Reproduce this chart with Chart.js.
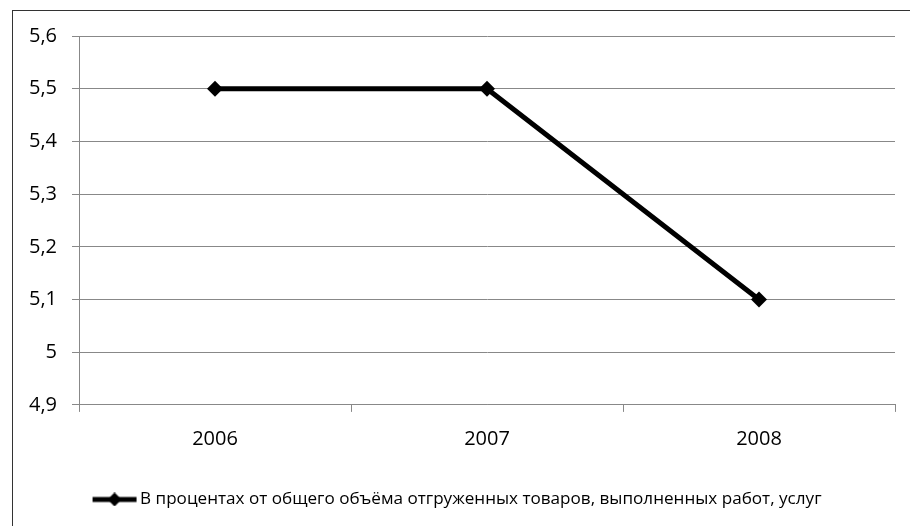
<!DOCTYPE html>
<html>
<head>
<meta charset="utf-8">
<script src="https://cdn.jsdelivr.net/npm/chart.js@4/dist/chart.umd.min.js"></script>
<style>
  html, body { margin: 0; padding: 0; background: #fff; }
  #wrap { width: 910px; height: 526px; position: relative; }
</style>
</head>
<body>
<div id="wrap"><canvas id="chart"></canvas></div>
<script>
const years = ['2006', '2007', '2008'];
const shareValues = [5.5, 5.5, 5.1];
const seriesName = 'В процентах от общего объёма отгруженных товаров, выполненных работ, услуг';
const yMin = 4.9, yMax = 5.6, yStep = 0.1;

const FONT = '"Open Sans", "Noto Sans", sans-serif';

// legend symbol: thick line with a diamond in the middle
const sym = document.createElement('canvas');
sym.width = 46; sym.height = 14;
const sctx = sym.getContext('2d');
sctx.strokeStyle = '#000';
sctx.lineWidth = 5;
sctx.beginPath(); sctx.moveTo(1, 7); sctx.lineTo(45, 7); sctx.stroke();
sctx.fillStyle = '#000';
sctx.beginPath();
sctx.moveTo(23, 0); sctx.lineTo(30, 7); sctx.lineTo(23, 14); sctx.lineTo(16, 7);
sctx.closePath(); sctx.fill();

// outer frame like the spreadsheet chart border
const framePlugin = {
  id: 'frame',
  beforeDraw(chart) {
    const c = chart.ctx;
    c.save();
    c.fillStyle = '#fff';
    c.fillRect(0, 0, chart.width, chart.height);
    c.strokeStyle = '#333';
    c.lineWidth = 1;
    c.strokeRect(12.5, 10.5, 920, 560);
    c.restore();
  }
};

new Chart(document.getElementById('chart'), {
  type: 'line',
  data: {
    labels: years,
    datasets: [{
      label: seriesName,
      data: shareValues,
      borderColor: '#000',
      backgroundColor: '#000',
      borderWidth: 5,
      pointStyle: 'rectRot',
      pointRadius: 8,
      pointBackgroundColor: '#000',
      pointBorderWidth: 0,
      tension: 0
    }]
  },
  plugins: [framePlugin],
  options: {
    responsive: true,
    maintainAspectRatio: false,
    animation: false,
    layout: { padding: { left: 24, right: 15, top: 36, bottom: 8 } },
    plugins: {
      tooltip: { enabled: false },
      legend: {
        position: 'bottom',
        labels: {
          usePointStyle: true,
          pointStyle: sym,
          pointStyleWidth: 34,
          color: '#000',
          font: { family: FONT, size: 17.1 },
          padding: 20,
          generateLabels(chart) {
            return [{ text: seriesName, pointStyle: sym, fontColor: '#000', datasetIndex: 0 }];
          }
        }
      }
    },
    scales: {
      x: {
        offset: true,
        grid: { offset: true, drawOnChartArea: false, color: '#888', tickLength: 7 },
        border: { color: '#888' },
        ticks: { color: '#000', font: { family: FONT, size: 20 }, padding: 15 },
        afterFit(scale) { scale.height = 66; }
      },
      y: {
        min: yMin,
        max: yMax,
        ticks: {
          stepSize: yStep,
          color: '#000',
          font: { family: FONT, size: 20 },
          padding: 15,
          callback: v => String(Math.round(v * 10) / 10).replace('.', ',')
        },
        grid: { color: '#888', tickLength: 7 },
        border: { color: '#888' },
        afterFit(scale) { scale.width = 55; }
      }
    }
  }
});
</script>
</body>
</html>
